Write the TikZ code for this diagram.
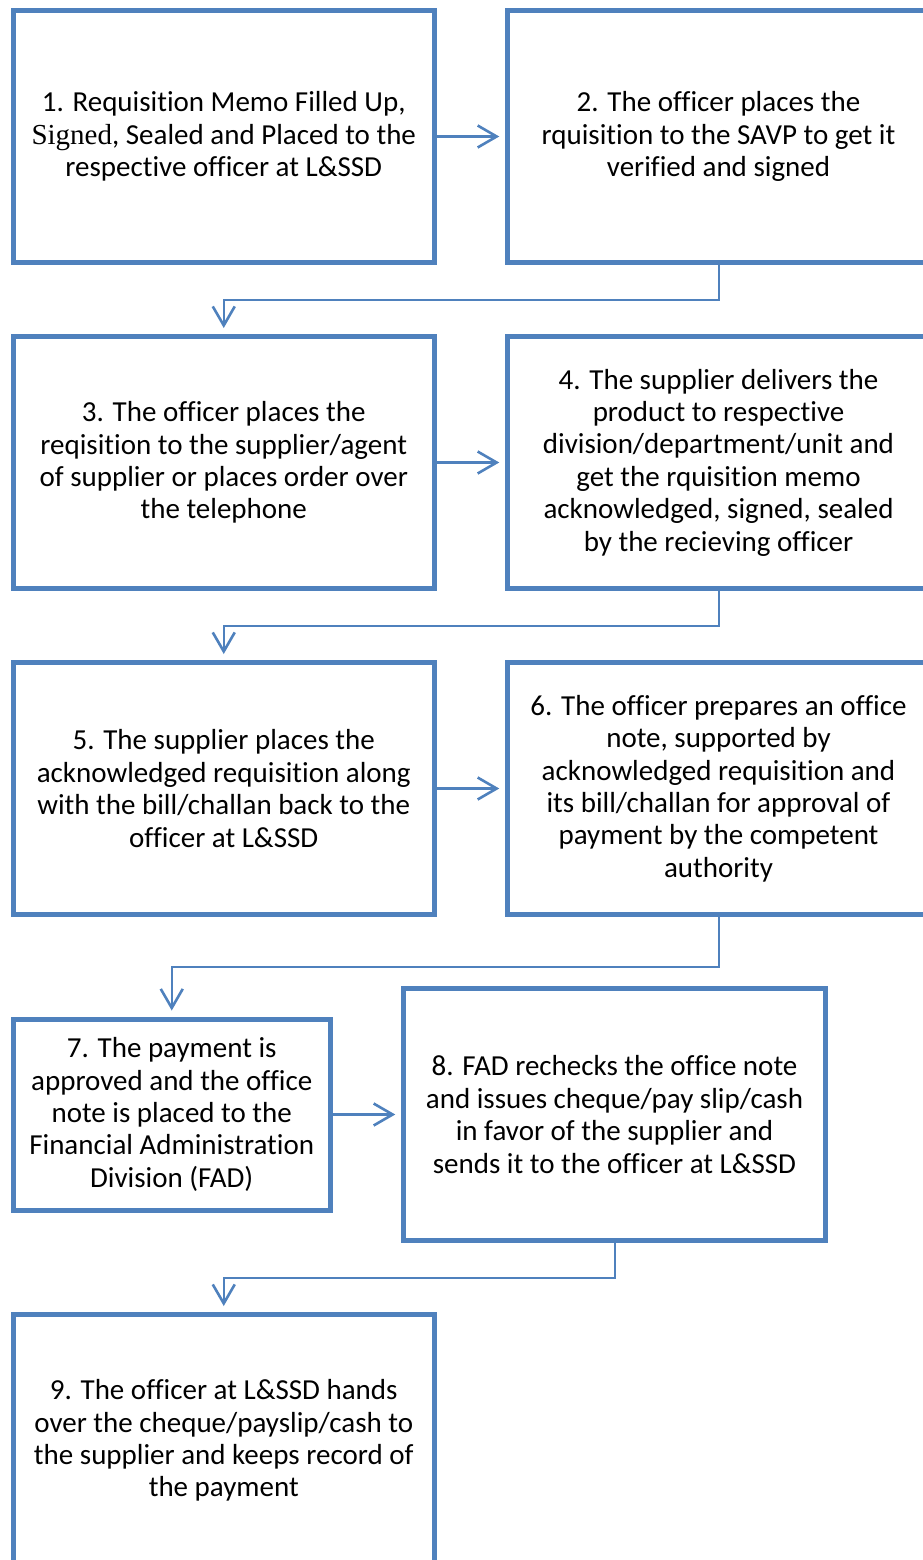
\documentclass[tikz,border=0pt]{standalone}
\usepackage{fontspec}
\setmainfont{Carlito}[Ligatures={NoCommon}]
\newfontfamily\serifword{Liberation Serif}
\usetikzlibrary{arrows.meta,calc}
\definecolor{boxblue}{HTML}{4F81BD}
\tikzset{
  stepbox/.style={draw=boxblue, line width=5pt, fill=white, inner sep=0pt,
    minimum width=421.5pt, minimum height=252pt, align=center,
    font=\fontsize{29}{32.4}\selectfont, text=black},
  smallbox/.style={stepbox, minimum width=317.5pt, minimum height=191pt},
  flow/.style={draw=boxblue, line width=2.6pt,
    -{Straight Barb[length=19pt,width=22pt,line width=2.6pt]}, shorten >=6pt},
  elbow/.style={draw=boxblue, line width=2pt,
    -{Straight Barb[length=19pt,width=22pt,line width=2.6pt]}, shorten >=6pt},
}
\begin{document}
\begin{tikzpicture}[x=1pt,y=-1pt]
\useasboundingbox (0,0) rectangle (922,1560);

\node[stepbox] (b1) at (223.75,136.5)
  {1. Requisition Memo Filled Up,\\{\serifword Signed}, Sealed and Placed to the\\respective officer at L\&SSD};
\node[stepbox] (b2) at (718.5,136.5)
  {2. The officer places the\\rquisition to the SAVP to get it\\verified and signed};
\node[stepbox] (b3) at (223.75,462.5)
  {3. The officer places the\\reqisition to the supplier/agent\\of supplier or places order over\\the telephone};
\node[stepbox] (b4) at (718.5,462.5)
  {4. The supplier delivers the\\product to respective\\division/department/unit and\\get the rquisition memo\\acknowledged, signed, sealed\\by the recieving officer};
\node[stepbox] (b5) at (223.75,788.5)
  {5. The supplier places the\\acknowledged requisition along\\with the bill/challan back to the\\officer at L\&SSD};
\node[stepbox] (b6) at (718.5,788.5)
  {6. The officer prepares an office\\note, supported by\\acknowledged requisition and\\its bill/challan for approval of\\payment by the competent\\authority};
\node[smallbox] (b7) at (171.75,1114.5)
  {7. The payment is\\approved and the office\\note is placed to the\\Financial Administration\\Division (FAD)};
\node[stepbox] (b8) at (614.5,1114.5)
  {8. FAD rechecks the office note\\and issues cheque/pay slip/cash\\in favor of the supplier and\\sends it to the officer at L\&SSD};
\node[stepbox] (b9) at (223.75,1440.5)
  {9. The officer at L\&SSD hands\\over the cheque/payslip/cash to\\the supplier and keeps record of\\the payment};

% side-by-side steps
\draw[flow] (b1) -- (b2);
\draw[flow] (b3) -- (b4);
\draw[flow] (b5) -- (b6);
\draw[flow] (b7) -- (b8);

% row-to-row steps
\draw[elbow] (b2.south) |- ($(b2.south)!0.5!(b3.north)$) -| (b3.north);
\draw[elbow] (b4.south) |- ($(b4.south)!0.5!(b5.north)$) -| (b5.north);
\draw[elbow] (b6.south) |- ($(b6.south)!0.5!(b7.north)$) -| (b7.north);
\draw[elbow] (b8.south) |- ($(b8.south)!0.5!(b9.north)$) -| (b9.north);
\end{tikzpicture}
\end{document}
